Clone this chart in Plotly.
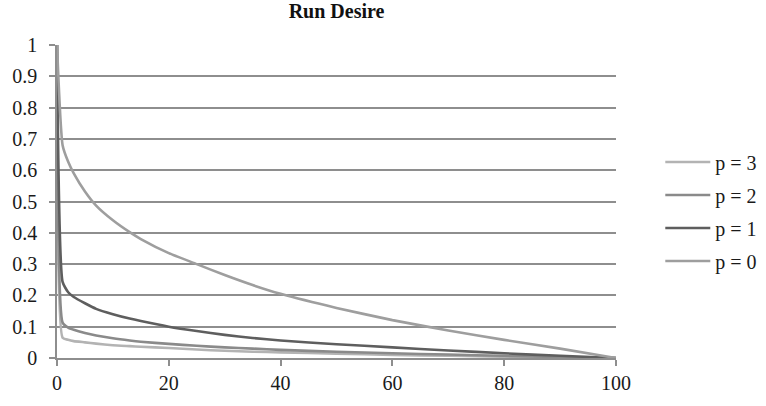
import plotly.graph_objects as go

x_vals = [0, 1, 2, 3, 5, 7, 10, 13, 15, 20, 25, 30, 35, 40, 50, 60, 70, 80, 90, 100]

p0 = [1, 0.68, 0.627, 0.59, 0.532, 0.487, 0.44, 0.402, 0.38, 0.335, 0.30, 0.265, 0.233, 0.205, 0.16, 0.121, 0.088, 0.058, 0.03, 0]
p1 = [1, 0.243, 0.21, 0.195, 0.175, 0.157, 0.14, 0.126, 0.118, 0.10, 0.086, 0.074, 0.064, 0.056, 0.044, 0.034, 0.024, 0.015, 0.007, 0]
p2 = [1, 0.113, 0.097, 0.09, 0.08, 0.072, 0.063, 0.056, 0.052, 0.045, 0.039, 0.034, 0.03, 0.026, 0.02, 0.015, 0.011, 0.007, 0.003, 0]
p3 = [1, 0.065, 0.058, 0.054, 0.05, 0.046, 0.041, 0.038, 0.036, 0.032, 0.027, 0.023, 0.02, 0.018, 0.014, 0.01, 0.007, 0.004, 0.002, 0]

series_names = ["p = 3", "p = 2", "p = 1", "p = 0"]
series_vals = [p3, p2, p1, p0]
series_colors = ["#b3b3b3", "#8a8a8a", "#5e5e5e", "#9e9e9e"]

x_ticks = [0, 20, 40, 60, 80, 100]
y_ticks = [0, 0.1, 0.2, 0.3, 0.4, 0.5, 0.6, 0.7, 0.8, 0.9, 1]
y_labels = ["0", "0.1", "0.2", "0.3", "0.4", "0.5", "0.6", "0.7", "0.8", "0.9", "1"]

FONT = "Liberation Serif, Times New Roman, serif"
GRID = "#8e8e8e"

fig = go.Figure()
for name, vals, col in zip(series_names, series_vals, series_colors):
    fig.add_trace(go.Scatter(
        x=x_vals, y=vals, mode="lines", name=name, legendgroup=name,
        line=dict(color=col, width=2.6, shape="spline", smoothing=0.5),
    ))

fig.update_layout(
    width=766, height=406,
    margin=dict(l=51, r=150, t=45, b=33),
    paper_bgcolor="white", plot_bgcolor="white",
    font=dict(family=FONT, size=20, color="#1a1a1a"),
    title=dict(text="<b>Run Desire</b>", x=0.5, xref="paper", xanchor="center",
               y=1, yref="container", yanchor="top", pad=dict(t=4),
               font=dict(family=FONT, size=20, color="#111111")),
    showlegend=True,
    legend=dict(xref="container", yref="container", x=0.862, xanchor="left",
                y=0.479, yanchor="middle",
                traceorder="grouped", tracegroupgap=4, itemwidth=45,
                font=dict(family=FONT, size=20, color="#1a1a1a"),
                bgcolor="rgba(0,0,0,0)"),
    xaxis=dict(range=[0, 100], tickvals=x_ticks, ticktext=[str(v) for v in x_ticks],
               showgrid=False, zeroline=False, showline=True, linecolor=GRID, linewidth=1.5,
               ticks="outside", ticklen=6, tickcolor=GRID, tickwidth=1.5),
    yaxis=dict(range=[0, 1], tickvals=y_ticks, ticktext=y_labels,
               showgrid=True, gridcolor=GRID, gridwidth=1.5, zeroline=False,
               showline=True, linecolor=GRID, linewidth=1.5,
               ticks="outside", ticklen=6, tickcolor=GRID, tickwidth=1.5,
               ticklabelstandoff=8),
)

fig.write_html("out.html")
